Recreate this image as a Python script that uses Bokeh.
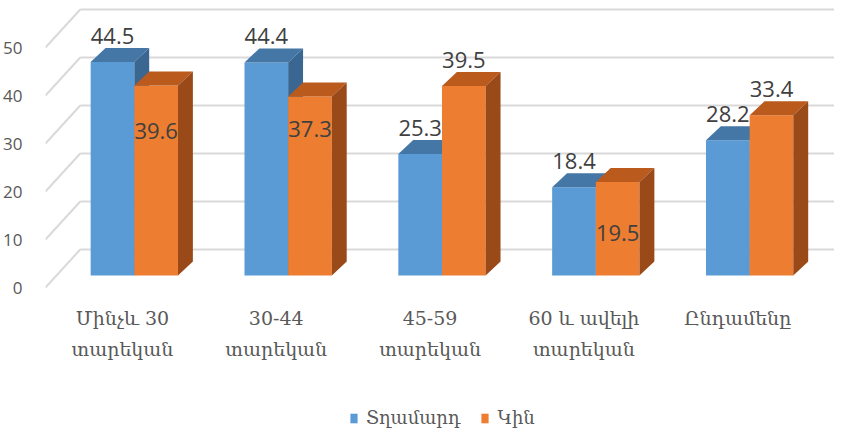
from bokeh.plotting import figure
from bokeh.models import ColumnDataSource, FixedTicker, Range1d, Legend, LegendItem
from bokeh.core.properties import value
from bokeh.embed import file_html
from bokeh.resources import INLINE

# ---------------- data ----------------
categories = ["Մինչև 30\nտարեկան", "30-44\nտարեկան", "45-59\nտարեկան",
              "60 և ավելի\nտարեկան", "Ընդամենը"]
men = [44.5, 44.4, 25.3, 18.4, 28.2]
women = [39.6, 37.3, 39.5, 19.5, 33.4]
y_ticks = [0, 10, 20, 30, 40, 50]
series_names = ["Տղամարդ", "Կին"]

# ---------------- style ----------------
W, H = 834, 428
BORDER_L = 39
FRAME_W, FRAME_H = W - BORDER_L, H
PLOT_H = 287                        # px from top to the value-0 front line
SY = 4.8                            # px per value unit
Y1 = PLOT_H / SY
Y0 = -(FRAME_H - PLOT_H) / SY
X0, X1 = -0.5, -0.5 + FRAME_W / 155.0
SX = FRAME_W / (X1 - X0)


def ux(px):
    return px / SX


def uy(px):
    return px / SY


FRONT_DX, FRONT_DY = ux(12), uy(12)     # bar front face behind the front plane
DEPTH_DX, DEPTH_DY = ux(15), uy(14)     # bar depth
WALL_DX, WALL_DY = ux(35), uy(38)       # back wall
BAR_W = ux(44)
BLUE = ("#5B9BD5", "#4476A6", "#3A6791")    # front, top, side
ORANGE = ("#ED7D31", "#BA5A1D", "#9A4919")
GRID = "#D9D9D9"
LABEL_COLOR = "#404040"
TICK_COLOR = "#595959"
MEN_LABEL_SHIFT_PX = [26, 26, 26, 26, 26]
WOMEN_LABEL_SHIFT_PX = [-46, -33, 26, -51, 26]
CAT_LABEL_TOP_PX = 19               # below the value-0 front line
ARM_FONT = "DejaVu Serif"
NUM_FONT = "Open Sans"

p = figure(width=W, height=H,
           x_range=Range1d(X0, X1), y_range=Range1d(Y0, Y1),
           output_backend="svg", toolbar_location=None,
           min_border_left=BORDER_L, min_border_right=0, min_border_top=0,
           min_border_bottom=0)
p.outline_line_color = None
p.xgrid.visible = False
p.ygrid.visible = False
p.xaxis.visible = False
p.background_fill_color = "white"

# back wall grid + left diagonals
wall_y = [t + WALL_DY for t in y_ticks]
p.segment(x0=[X0 + WALL_DX] * len(y_ticks), y0=wall_y, x1=[X1] * len(y_ticks), y1=wall_y,
          line_color=GRID, line_width=2)
p.segment(x0=[X0] * len(y_ticks), y0=y_ticks, x1=[X0 + WALL_DX] * len(y_ticks), y1=wall_y,
          line_color=GRID, line_width=2)


def bar_sources(vals, side):
    left, right, bottom, top = [], [], [], []
    txs, tys, sxs, sys_ = [], [], [], []
    for i, v in enumerate(vals):
        c = i + FRONT_DX
        l = c - BAR_W if side == 0 else c
        r = l + BAR_W
        b = FRONT_DY
        t = v + FRONT_DY
        left.append(l); right.append(r); bottom.append(b); top.append(t)
        txs.append([l, r, r + DEPTH_DX, l + DEPTH_DX])
        tys.append([t, t, t + DEPTH_DY, t + DEPTH_DY])
        sxs.append([r, r + DEPTH_DX, r + DEPTH_DX, r])
        sys_.append([b, b + DEPTH_DY, t + DEPTH_DY, t])
    front = ColumnDataSource(dict(left=left, right=right, bottom=bottom, top=top))
    tops = ColumnDataSource(dict(xs=txs, ys=tys))
    sides = ColumnDataSource(dict(xs=sxs, ys=sys_))
    return front, tops, sides


renderers = []
for side, (vals, cols) in enumerate([(men, BLUE), (women, ORANGE)]):
    f, t, s = bar_sources(vals, side)
    fr = p.quad(left="left", right="right", bottom="bottom", top="top", source=f,
                fill_color=cols[0], line_color=None)
    p.patches(xs="xs", ys="ys", source=t, fill_color=cols[1], line_color=None)
    p.patches(xs="xs", ys="ys", source=s, fill_color=cols[2], line_color=None)
    renderers.append(fr)

# data labels
for side, (vals, shifts) in enumerate([(men, MEN_LABEL_SHIFT_PX), (women, WOMEN_LABEL_SHIFT_PX)]):
    xs = [i + FRONT_DX + (-BAR_W / 2 if side == 0 else BAR_W / 2) for i in range(len(vals))]
    ys = [v + FRONT_DY + uy(sh) for v, sh in zip(vals, shifts)]
    p.text(x=xs, y=ys, text=[f"{v:.1f}" for v in vals], text_align="center",
           text_baseline="middle", text_font=value(NUM_FONT), text_font_size="22px",
           text_color=LABEL_COLOR)

# category labels (front floor edge)
p.text(x=list(range(len(categories))), y=[-uy(CAT_LABEL_TOP_PX)] * len(categories),
       text=categories, text_align="center", text_baseline="top",
       text_font=value(ARM_FONT), text_font_size="19px", text_line_height=1.45,
       text_color=TICK_COLOR)

# y axis
ya = p.yaxis[0]
ya.ticker = FixedTicker(ticks=y_ticks)
ya.axis_line_color = None
ya.major_tick_line_color = None
ya.minor_tick_line_color = None
ya.major_label_standoff = 17
ya.major_label_text_font = NUM_FONT
ya.major_label_text_font_size = "17px"
ya.major_label_text_color = TICK_COLOR

legend = Legend(items=[LegendItem(label=series_names[0], renderers=[renderers[0]]),
                       LegendItem(label=series_names[1], renderers=[renderers[1]])],
                orientation="horizontal", location=(304, 0),
                border_line_color=None, background_fill_alpha=0,
                glyph_width=9, glyph_height=12, label_standoff=8, spacing=20,
                padding=0, margin=0, label_height=18,
                label_text_font=ARM_FONT, label_text_font_size="18px",
                label_text_color=TICK_COLOR)
p.add_layout(legend)

open("out.html", "w").write(file_html(p, INLINE))
